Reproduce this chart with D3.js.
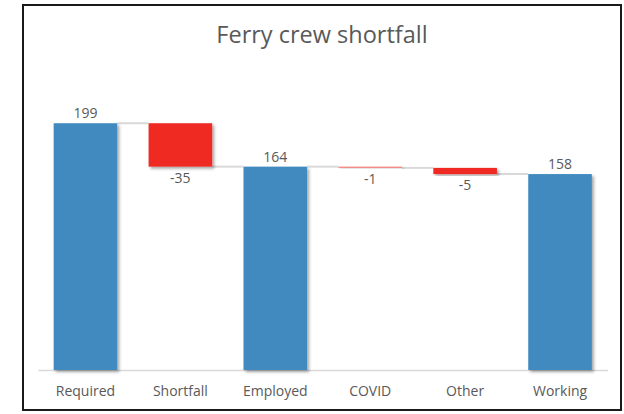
<!DOCTYPE html>
<html>
<head>
<meta charset="utf-8">
<script src="https://cdn.jsdelivr.net/npm/d3@7"></script>
<style>
  html, body { margin: 0; padding: 0; background: #fff; }
  svg { display: block; }
  text { font-family: "Open Sans", "Noto Sans", sans-serif; fill: #595959; }
</style>
</head>
<body>
<svg id="chart" width="624" height="414"></svg>
<script>
// ---- data ----
const title = "Ferry crew shortfall";
const categories = ["Required", "Shortfall", "Employed", "COVID", "Other", "Working"];
const values = [199, -35, 164, -1, -5, 158];
const isTotal = [true, false, true, false, false, true];
const yTicks = [0, 50, 100, 150, 200, 250];

// ---- layout ----
const frame = {x: 23, y: 5, w: 598, h: 405};
const plot = {left: 38, right: 607.5, top: 60, bottom: 370};

const svg = d3.select("#chart");

// shadow filter
const defs = svg.append("defs");
const f = defs.append("filter").attr("id", "shadow")
  .attr("x", "-20%").attr("y", "-20%").attr("width", "150%").attr("height", "150%");
f.append("feDropShadow").attr("dx", 2).attr("dy", 2).attr("stdDeviation", 1.6)
  .attr("flood-color", "#000").attr("flood-opacity", 0.35);

// frame
svg.append("rect").attr("x", frame.x).attr("y", frame.y)
  .attr("width", frame.w).attr("height", frame.h)
  .attr("fill", "#fff").attr("stroke", "#1a1a1a").attr("stroke-width", 2);

const x = d3.scaleBand().domain(categories)
  .range([plot.left, plot.right]).paddingInner(0.33).paddingOuter(0.165);
const y = d3.scaleLinear().domain([0, d3.max(yTicks)]).range([plot.bottom, plot.top]);

// compute waterfall segments
let running = 0;
const segs = categories.map((c, i) => {
  let start, end;
  if (isTotal[i]) { start = 0; end = values[i]; running = values[i]; }
  else { start = running; end = running + values[i]; running = end; }
  return {cat: c, value: values[i], start, end, total: isTotal[i], level: running};
});

// connectors
const conn = svg.append("g");
segs.forEach((s, i) => {
  if (i === segs.length - 1) return;
  const next = categories[i + 1];
  conn.append("line")
    .attr("x1", x(s.cat) + x.bandwidth()).attr("x2", x(next))
    .attr("y1", y(s.level)).attr("y2", y(s.level))
    .attr("stroke", "#d9d9d9").attr("stroke-width", 2);
});

// axis line
const xAxis = d3.axisBottom(x).tickSize(0).tickPadding(16);
const ax = svg.append("g").attr("transform", `translate(0,${plot.bottom})`).call(xAxis);
ax.select(".domain").attr("stroke", "#d9d9d9").attr("stroke-width", 1.5);
ax.selectAll("text").style("font-family", '"Open Sans", sans-serif')
  .style("font-size", "14px").attr("fill", "#595959");

// bars
svg.append("g").selectAll("rect").data(segs).join("rect")
  .attr("x", d => x(d.cat))
  .attr("width", x.bandwidth())
  .attr("y", d => y(Math.max(d.start, d.end)))
  .attr("height", d => Math.abs(y(d.start) - y(d.end)))
  .attr("fill", d => d.total ? "#418ac0" : (Math.abs(d.value) < 2 ? "#f37f7b" : "#ee2b24"))
  .attr("filter", "url(#shadow)");

// labels
svg.append("g").selectAll("text").data(segs).join("text")
  .attr("x", d => x(d.cat) + x.bandwidth() / 2)
  .attr("y", d => d.value >= 0 ? y(Math.max(d.start, d.end)) - 5 : y(Math.min(d.start, d.end)) + 16)
  .attr("text-anchor", "middle")
  .style("font-size", "14px")
  .text(d => d.value);

// title
svg.append("text").attr("x", 322).attr("y", 43).attr("text-anchor", "middle")
  .style("font-size", "23.5px").text(title);
</script>
</body>
</html>
